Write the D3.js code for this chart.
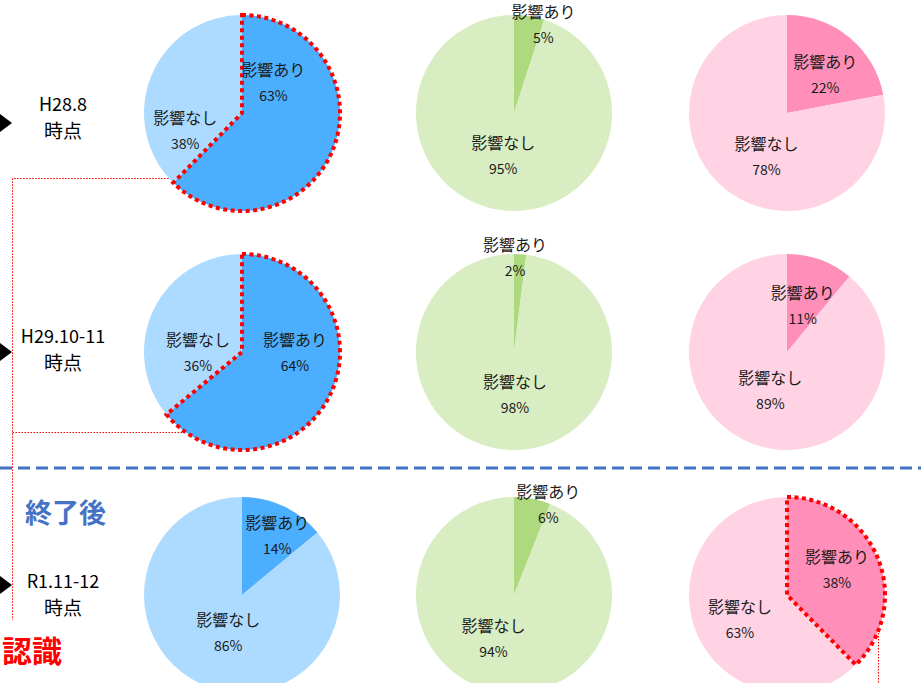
<!DOCTYPE html>
<html>
<head>
<meta charset="utf-8">
<style>
  body { margin: 0; background: #fff; }
  text { font-family: "Noto Sans CJK JP", "Noto Sans", sans-serif; }
</style>
</head>
<body></body>
<script src="https://d3js.org/d3.v7.min.js"></script>
<script>
  // data
  const periods = ['H28.8', 'H29.10-11', 'R1.11-12']
  const sliceNames = ['影響あり', '影響なし']
  const blueValues = [[63, 38], [64, 36], [14, 86]]
  const greenValues = [[5, 95], [2, 98], [6, 94]]
  const pinkValues = [[22, 78], [11, 89], [38, 63]]
  // [row, col] of the slices outlined in red
  const highlighted = [[0, 0], [1, 0], [2, 2]]

  // layout
  const width = 921
  const height = 683
  const radius = 98
  const colX = [242, 514, 787]
  const rowY = [113, 352, 595]
  const periodY = [105, 337, 582]
  const arrowY = [123, 352, 585]
  const palettes = [
    ['#4BAEFF', '#ADDAFF'],
    ['#AED97E', '#D8EDC2'],
    ['#FF8FB8', '#FFD3E3']
  ]
  // data label offsets (radius units), per row / column / slice
  const labelOffsets = [
    [[[0.32, -0.31], [-0.58, 0.18]], [[0.30, -0.90], [-0.11, 0.44]], [[0.39, -0.39], [-0.21, 0.45]]],
    [[[0.54, 0.01], [-0.45, 0.01]], [[0.01, -0.96], [0.01, 0.44]], [[0.16, -0.47], [-0.17, 0.40]]],
    [[[0.36, -0.60], [-0.14, 0.39]], [[0.35, -0.92], [-0.21, 0.45]], [[0.51, -0.26], [-0.48, 0.26]]]
  ]

  const svg = d3.select('body')
    .append('svg')
    .attr('width', width)
    .attr('height', height)

  const pie = d3.pie().sort(null).value(d => d.value)
  const arc = d3.arc().innerRadius(0).outerRadius(radius)
  const off = d3.scaleLinear().domain([0, 1]).range([0, radius])

  // red connector lines (thin dotted), meeting the pie rims
  const connectors = svg.append('g')
    .attr('fill', 'none')
    .attr('stroke', '#FF0000')
    .attr('stroke-width', 1)
    .attr('stroke-dasharray', '1.5 1.5')
  const rimLeft = (row, col, dy) => colX[col] - Math.sqrt(radius * radius - dy * dy)
  connectors.append('path').attr('d', `M${rimLeft(0, 0, 65) + 3},${rowY[0] + 65.5}H12.5V620`)
  connectors.append('path').attr('d', `M12.5,${rowY[1] + 80.5}H${rimLeft(1, 0, 80)}`)
  connectors.append('path').attr('d', `M878.5,633V${height}`)

  // blue dashed separator
  svg.append('line')
    .attr('x1', 0).attr('x2', width)
    .attr('y1', 468).attr('y2', 468)
    .attr('stroke', '#4472C4')
    .attr('stroke-width', 3)
    .attr('stroke-dasharray', '12 6')

  // pies
  const allValues = [blueValues, greenValues, pinkValues]
  periods.forEach((period, row) => {
    allValues.forEach((values, col) => {
      const slices = pie(values[row].map((v, i) => ({ name: sliceNames[i], value: v, i })))
      const g = svg.append('g')
        .attr('transform', `translate(${colX[col]},${rowY[row]})`)

      g.selectAll('path.slice')
        .data(slices)
        .enter().append('path')
        .attr('class', 'slice')
        .attr('d', arc)
        .attr('fill', d => palettes[col][d.index])

      if (highlighted.some(([r, c]) => r === row && c === col)) {
        g.append('path')
          .attr('d', arc(slices[0]))
          .attr('fill', 'none')
          .attr('stroke', '#FF0000')
          .attr('stroke-width', 4)
          .attr('stroke-dasharray', '4 3.5')
      }

      const labels = g.selectAll('g.label')
        .data(slices)
        .enter().append('g')
        .attr('class', 'label')
        .attr('transform', d => {
          const o = labelOffsets[row][col][d.index]
          return `translate(${off(o[0])},${off(o[1])})`
        })
      labels.append('text')
        .attr('text-anchor', 'middle')
        .attr('y', -7)
        .attr('font-size', 16)
        .attr('fill', '#1a1a1a')
        .text(d => d.data.name)
      labels.append('text')
        .attr('text-anchor', 'middle')
        .attr('y', 18)
        .attr('font-size', 14)
        .attr('fill', '#1a1a1a')
        .text(d => d.data.value + '%')
    })

    // period label and arrow
    svg.append('text')
      .attr('x', 63).attr('y', periodY[row] + 6)
      .attr('text-anchor', 'middle')
      .attr('font-size', 18)
      .text(period)
    svg.append('text')
      .attr('x', 63).attr('y', periodY[row] + 33)
      .attr('text-anchor', 'middle')
      .attr('font-size', 19)
      .text('時点')
    svg.append('path')
      .attr('d', `M0,${arrowY[row] - 9}L12,${arrowY[row]}L0,${arrowY[row] + 9}Z`)
      .attr('fill', '#000')
  })

  svg.append('text')
    .attr('x', 25).attr('y', 523)
    .attr('font-size', 27)
    .attr('font-weight', 'bold')
    .attr('fill', '#4472C4')
    .text('終了後')

  svg.append('text')
    .attr('x', 62).attr('y', 662)
    .attr('text-anchor', 'end')
    .attr('font-size', 30)
    .attr('font-weight', 'bold')
    .attr('fill', '#FF0000')
    .text('認識')
</script>
</html>
